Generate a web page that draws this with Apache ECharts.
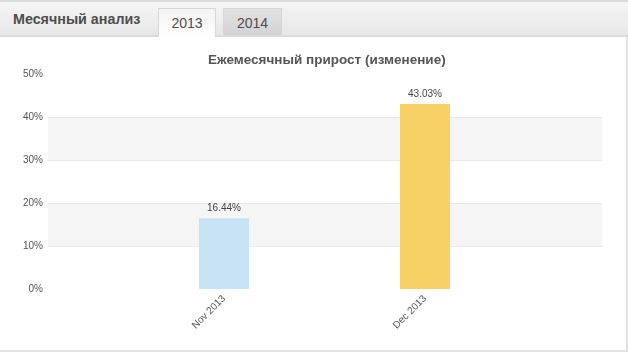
<!DOCTYPE html>
<html>
<head>
<meta charset="utf-8">
<script src="https://cdn.jsdelivr.net/npm/echarts@6/dist/echarts.min.js"></script>
<style>
  html, body { margin: 0; padding: 0; background: #fff; }
  #wrap { position: relative; width: 628px; height: 354px; overflow: hidden; font-family: "Liberation Sans", Arial, sans-serif; }
  #header { position: absolute; left: 0; top: 0; width: 628px; height: 33px;
    background: linear-gradient(#f5f5f5, #e7e7e7); border-top: 2px solid #dcdcdc; border-bottom: 2px solid #dcdcdc; box-sizing: content-box; }
  #title { position: absolute; left: 13px; top: 11px; font-size: 14.3px; font-weight: bold; color: #4d4d4d; }
  .tab { position: absolute; top: 8px; height: 27px; width: 58px; text-align: center; font-size: 14px; color: #4d4d4d; line-height: 29px; box-sizing: border-box; border: 1px solid #d6d6d6; border-bottom: none; }
  #tab1 { left: 158px; background: linear-gradient(#f3f3f3, #ffffff); height: 29px; }
  #tab2 { left: 223px; width: 59px; background: linear-gradient(#e2e2e2, #d3d3d3); height: 27px; }
  #panel { position: absolute; left: 0; top: 37px; width: 626px; height: 313px; border-right: 2px solid #e3e3e3; border-bottom: 2px solid #e3e3e3; }
  #chart { position: absolute; left: 0; top: 0; width: 628px; height: 354px; }
</style>
</head>
<body>
<div id="wrap">
  <div id="panel"></div>
  <div id="header"></div>
  <div id="title">Месячный анализ</div>
  <div class="tab" id="tab1">2013</div>
  <div class="tab" id="tab2">2014</div>
  <div id="chart"></div>
</div>
<script>
const chartTitle = 'Ежемесячный прирост (изменение)';
const categories = ['Nov 2013', 'Dec 2013'];
const growth = [16.44, 43.03];
const barColors = ['#c8e3f6', '#f7d165'];
const yMin = 0, yMax = 50, yStep = 10;

const chart = echarts.init(document.getElementById('chart'), null, { renderer: 'canvas' });
const font = 'Liberation Sans';
chart.setOption({
  animation: false,
  title: {
    text: chartTitle, left: 203, top: 48,
    textStyle: { fontFamily: font, fontSize: 13.5, fontWeight: 'bold', color: '#555' }
  },
  grid: [
    { left: 48, right: 26, top: 74, bottom: 65 },
    { left: 123.5, right: 102.5, top: 74, bottom: 65 }
  ],
  xAxis: [
    { type: 'category', gridIndex: 0, data: categories, show: false },
    { type: 'category', gridIndex: 1, data: categories,
      axisLine: { show: false }, axisTick: { show: false },
      axisLabel: { rotate: 45, margin: 8, fontFamily: font, fontSize: 10, color: '#555' } }
  ],
  yAxis: [
    { type: 'value', gridIndex: 0, min: yMin, max: yMax, interval: yStep,
      axisLine: { show: false }, axisTick: { show: false },
      axisLabel: { formatter: '{value}%', margin: 5, fontFamily: font, fontSize: 10, color: '#555' },
      splitLine: { show: true, showMinLine: false, showMaxLine: false, lineStyle: { color: '#e9e9e9', width: 1 } },
      splitArea: { show: true, areaStyle: { color: ['rgba(255,255,255,0)', '#f5f5f5'] } } },
    { type: 'value', gridIndex: 1, min: yMin, max: yMax, interval: yStep, show: false,
      splitLine: { show: false } }
  ],
  series: [{
    type: 'bar', xAxisIndex: 1, yAxisIndex: 1, barWidth: 50,
    data: growth.map((v, i) => ({ value: v, itemStyle: { color: barColors[i] } })),
    label: { show: true, position: 'top', distance: 5, formatter: p => p.value.toFixed(2) + '%',
      fontFamily: font, fontSize: 10, color: '#444' }
  }]
});
</script>
</body>
</html>
